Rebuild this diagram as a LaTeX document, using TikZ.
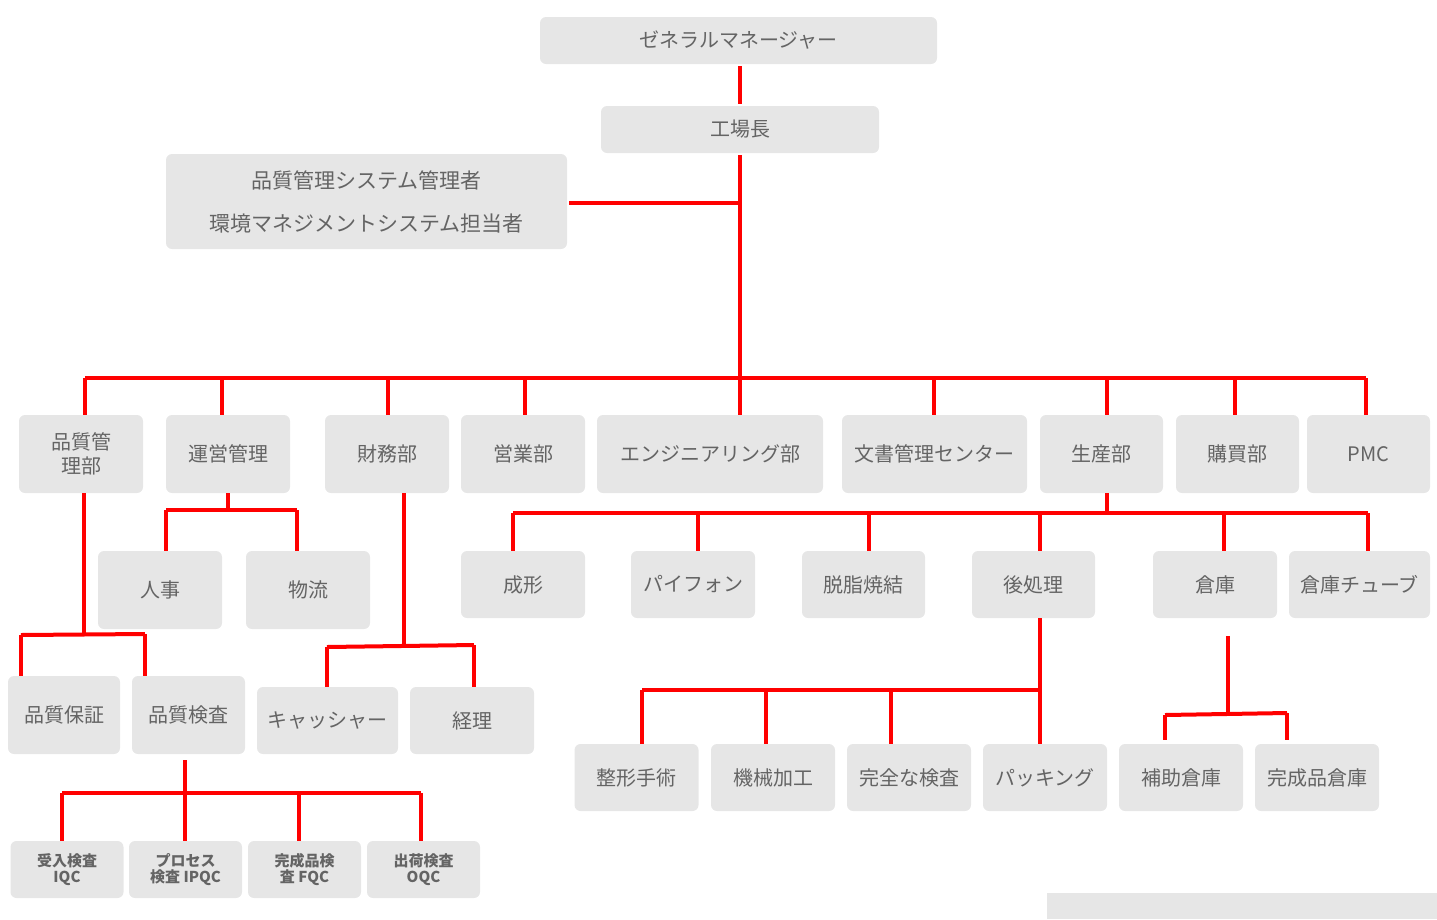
\documentclass[tikz,border=0pt]{standalone}
\usepackage{fontspec}
\setmainfont{Noto Sans CJK JP}
\definecolor{boxgray}{RGB}{230,230,230}
\definecolor{textgray}{RGB}{100,100,100}
\tikzset{every picture/.style={line width=4pt}}

\begin{document}
\begin{tikzpicture}[x=1pt,y=1pt,yscale=-1,xscale=1,
  box/.style={fill=boxgray, rounded corners=6pt, text=textgray, inner sep=0pt, align=center, font=\fontsize{20}{24}\selectfont},
  smallbox/.style={box, minimum width=113pt, minimum height=57pt, font=\fontsize{15}{16}\selectfont\bfseries},
  link/.style={draw=red, line width=4pt}]
\useasboundingbox (0,0) rectangle (1437,919);

% top
\node [box, minimum width=397pt, minimum height=47pt] (gm) at (738.5,40.5) {ゼネラルマネージャー};
\node [box, minimum width=278pt, minimum height=47pt] (plant) at (740,129.5) {工場長};
\node [box, minimum width=401pt, minimum height=95pt, font=\fontsize{21}{43}\selectfont] (qms) at (366.5,201.5) {品質管理システム管理者\\環境マネジメントシステム担当者};

% departments
\foreach \name/\x/\w/\txt in {qcd/81/124/{品質管\\理部}, ops/228/124/運営管理, fin/387/124/財務部, sales/523/124/営業部,
  eng/710/226/エンジニアリング部, doc/934.5/185/文書管理センター, prod/1101.5/123/生産部, buy/1237.5/123/購買部, pmc/1368.5/123/PMC}
  \node [box, minimum width=\w pt, minimum height=78pt] (\name) at (\x,454) {\txt};

% production sections
\foreach \name/\x/\w/\txt in {mold/523/124/成形, pipe/693/124/パイフォン, sinter/863.5/123/脱脂焼結, post/1033.5/123/後処理,
  store/1215/124/倉庫, tube/1359.5/141/倉庫チューブ}
  \node [box, minimum width=\w pt, minimum height=67pt] (\name) at (\x,584.5) {\txt};

\node [box, minimum width=124pt, minimum height=78pt] (hr) at (160,590) {人事};
\node [box, minimum width=124pt, minimum height=78pt] (logi) at (308,590) {物流};

\node [box, minimum width=112pt, minimum height=78pt] (qa) at (64,715) {品質保証};
\node [box, minimum width=113pt, minimum height=78pt] (qi) at (188.5,715) {品質検査};
\node [box, minimum width=141pt, minimum height=67pt] (cash) at (327.5,720.5) {キャッシャー};
\node [box, minimum width=124pt, minimum height=67pt] (acct) at (472,720.5) {経理};

\foreach \name/\x/\txt in {shape/636.5/整形手術, mach/773/機械加工, insp/909/完全な検査, pack/1045/パッキング,
  aux/1181/補助倉庫, fin2/1317/完成品倉庫}
  \node [box, minimum width=124pt, minimum height=67pt] (\name) at (\x,777.5) {\txt};

\node [smallbox] (iqc) at (67,869.5) {受入検査\\IQC};
\node [smallbox] (ipqc) at (185.5,869.5) {プロセス\\検査 IPQC};
\node [smallbox] (fqc) at (304.5,869.5) {完成品検\\査 FQC};
\node [smallbox] (oqc) at (423.5,869.5) {出荷検査\\OQC};

\fill [boxgray] (1047,893) rectangle (1437,919);

% connectors
\draw [link] (gm.south -| plant.south) -- (plant.north);
\draw [link] (plant.south) -- (740,378);
\draw [link] (qms.east |- 0,203) -- (740,203);
\draw [link] (85,378) -- (1366,378);
\foreach \n/\x in {qcd/85, ops/222, fin/388, sales/525, eng/740, doc/934, prod/1107, buy/1235, pmc/1366}
  \draw [link] (\x,378) -- (\x,415);

\draw [link] (228,493) -- (228,510);
\draw [link] (166,510) -- (297,510);
\draw [link] (166,510) -- (166,551);
\draw [link] (297,510) -- (297,551);

\draw [link] (404,493) -- (404,645);
\draw [link] (327,647) -- (474,645);
\draw [link] (327,647) -- (327,687);
\draw [link] (474,645) -- (474,687);

\draw [link] (84,493) -- (84,634);
\draw [link] (21,635) -- (145,634);
\draw [link] (21,635) -- (21,676);
\draw [link] (145,634) -- (145,676);

\draw [link] (185,760) -- (185,841);
\draw [link] (62,793) -- (421,793);
\foreach \x in {62,299,421}
  \draw [link] (\x,793) -- (\x,841);

\draw [link] (1107,493) -- (1107,513);
\draw [link] (513,513) -- (1368,513);
\foreach \x in {513,698,869,1040,1224,1368}
  \draw [link] (\x,513) -- (\x,551);

\draw [link] (1040,618) -- (1040,744);
\draw [link] (642,690) -- (1040,690);
\foreach \x/\y in {642/744,766/744,891/744}
  \draw [link] (\x,690) -- (\x,\y);

\draw [link] (1228,636) -- (1228,714);
\draw [link] (1165,715) -- (1287,713);
\draw [link] (1165,715) -- (1165,740);
\draw [link] (1287,713) -- (1287,740);
\end{tikzpicture}
\end{document}
